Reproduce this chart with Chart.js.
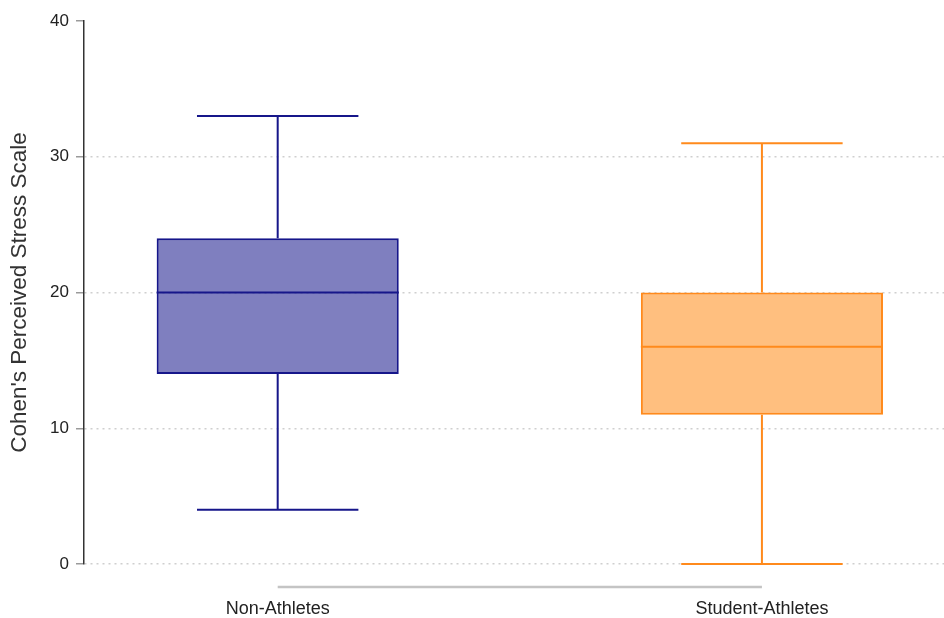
<!DOCTYPE html>
<html>
<head>
<meta charset="utf-8">
<title>Perceived stress box plot</title>
<script src="https://cdn.jsdelivr.net/npm/chart.js@4.4.0/dist/chart.umd.min.js"></script>
<style>
  html, body { margin: 0; padding: 0; background: #fff; }
  #wrap { width: 944px; height: 618px; position: relative; }
</style>
</head>
<body>
<div id="wrap"><canvas id="stressChart"></canvas></div>
<script>
// data
const groups = ['Non-Athletes', 'Student-Athletes'];
const whiskerLow = [4, 0];
const quartile1 = [14, 11];
const medians = [20, 16];
const quartile3 = [24, 20];
const whiskerHigh = [33, 31];
const yTicks = [0, 10, 20, 30, 40];

const lineColors = ['#16168a', '#ff8a1c'];
const fillColors = ['rgba(0, 0, 128, 0.5)', 'rgba(255, 127, 0, 0.5)'];

const FONT = "'Liberation Sans', Arial, sans-serif";

// whiskers, caps, medians and the short category baseline
const boxExtras = {
    id: 'boxExtras',
    afterDatasetsDraw(chart) {
        const ctx = chart.ctx;
        const yScale = chart.scales.y;
        const xScale = chart.scales.x;
        const bars = chart.getDatasetMeta(0).data;

        ctx.save();
        bars.forEach((bar, i) => {
            const half = bar.width / 2;
            const cap = bar.width / 3;
            const yLow = yScale.getPixelForValue(whiskerLow[i]);
            const yHigh = yScale.getPixelForValue(whiskerHigh[i]);
            const yQ1 = yScale.getPixelForValue(quartile1[i]);
            const yQ3 = yScale.getPixelForValue(quartile3[i]);
            const yMed = yScale.getPixelForValue(medians[i]);

            ctx.strokeStyle = lineColors[i];
            ctx.lineWidth = 2;
            ctx.beginPath();
            ctx.moveTo(bar.x, yQ3);
            ctx.lineTo(bar.x, yHigh);
            ctx.moveTo(bar.x - cap, yHigh);
            ctx.lineTo(bar.x + cap, yHigh);
            ctx.moveTo(bar.x, yQ1);
            ctx.lineTo(bar.x, yLow);
            ctx.moveTo(bar.x - cap, yLow);
            ctx.lineTo(bar.x + cap, yLow);
            ctx.moveTo(bar.x - half, yMed);
            ctx.lineTo(bar.x + half, yMed);
            ctx.stroke();
        });

        const baseY = chart.chartArea.bottom + 23;
        ctx.strokeStyle = '#c4c4c4';
        ctx.lineWidth = 2.5;
        ctx.beginPath();
        ctx.moveTo(xScale.getPixelForValue(0), baseY);
        ctx.lineTo(xScale.getPixelForValue(groups.length - 1), baseY);
        ctx.stroke();
        ctx.restore();
    }
};

function initializeChart() {
    const ctx = document.getElementById('stressChart').getContext('2d');
    const chart = new Chart(ctx, {
        type: 'bar',
        data: {
            datasets: [{
                label: 'IQR',
                data: groups.map((g, i) => ({ x: i, y: [quartile1[i], quartile3[i]] })),
                backgroundColor: fillColors,
                borderColor: lineColors,
                borderWidth: 2,
                borderSkipped: false,
                categoryPercentage: 1,
                barPercentage: 0.5
            }]
        },
        options: {
            responsive: true,
            maintainAspectRatio: false,
            animation: false,
            layout: {
                padding: { top: 21, right: 0, bottom: 0, left: 0 }
            },
            plugins: {
                legend: { display: false },
                tooltip: { enabled: false }
            },
            scales: {
                x: {
                    type: 'linear',
                    offset: false,
                    min: -0.4,
                    max: 1.376,
                    afterBuildTicks(scale) {
                        scale.ticks = groups.map((g, i) => ({ value: i }));
                    },
                    afterFit(scale) {
                        scale.height = 54;
                    },
                    grid: { display: false, drawTicks: false, offset: false },
                    border: { display: false },
                    ticks: {
                        autoSkip: false,
                        maxRotation: 0,
                        padding: 34,
                        color: '#222',
                        font: { family: FONT, size: 18 },
                        callback: (v) => groups[v]
                    }
                },
                y: {
                    min: 0,
                    max: 40,
                    afterBuildTicks(scale) {
                        scale.ticks = yTicks.map(v => ({ value: v }));
                    },
                    afterFit(scale) {
                        scale.width = 84;
                    },
                    grid: {
                        color: (c) => (c.tick && c.tick.value === 40 ? 'rgba(0,0,0,0)' : '#cfcfcf'),
                        lineWidth: 1.5,
                        tickColor: '#9a9a9a',
                        tickLength: 8,
                        tickWidth: 1.5,
                        tickBorderDash: []
                    },
                    border: {
                        display: true,
                        color: '#333',
                        width: 1.5,
                        dash: [2, 4]
                    },
                    ticks: {
                        padding: 7,
                        color: '#222',
                        font: { family: FONT, size: 17 }
                    },
                    title: {
                        display: true,
                        text: "Cohen's Perceived Stress Scale",
                        color: '#333',
                        padding: { top: 6, bottom: 4 },
                        font: { family: FONT, size: 22.5 }
                    }
                }
            }
        },
        plugins: [boxExtras]
    });

    window.stressChart = chart;
}

initializeChart();
</script>
</body>
</html>
